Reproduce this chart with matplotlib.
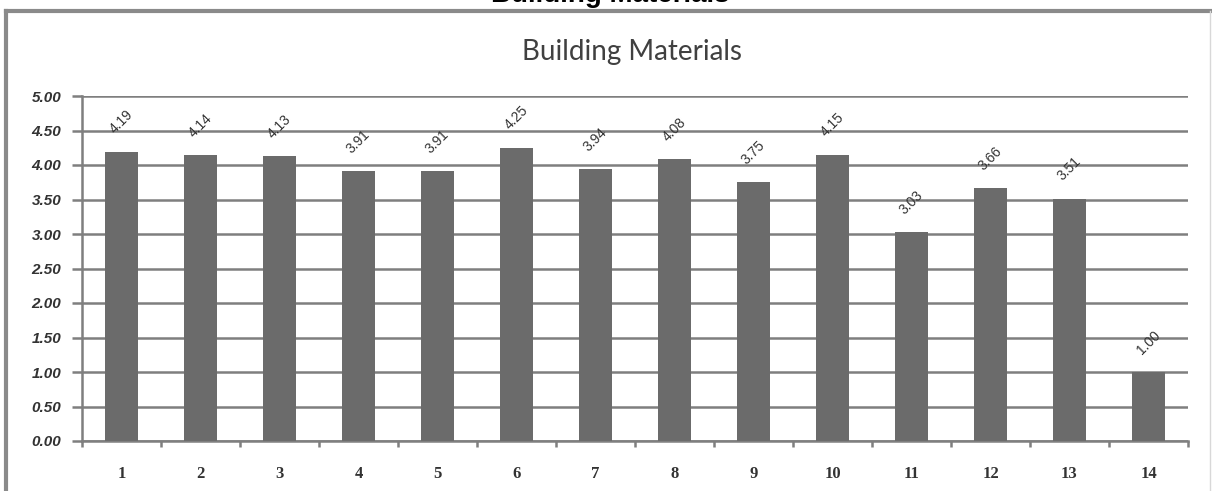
import numpy as np
import matplotlib.pyplot as plt
from matplotlib.lines import Line2D

# values
categories = [str(i) for i in range(1, 15)]
scores = [4.19, 4.14, 4.13, 3.91, 3.91, 4.25, 3.94, 4.08, 3.75, 4.15, 3.03, 3.66, 3.51, 1.00]
yticks = [0.0, 0.5, 1.0, 1.5, 2.0, 2.5, 3.0, 3.5, 4.0, 4.5, 5.0]

W, H = 1212, 491
fig = plt.figure(figsize=(W / 100, H / 100), dpi=100)

# outer frame (screenshot border), drawn in pixel-ish figure coords
def fx(px):
    return px / W

def fy(py):
    return 1 - py / H

fig.add_artist(Line2D([fx(6), fx(6)], [fy(11), -0.05], color="#8a8a8a", lw=3))
fig.add_artist(Line2D([fx(6), fx(1212)], [fy(11), fy(11)], color="#8a8a8a", lw=3))
fig.add_artist(Line2D([fx(1210), fx(1210)], [fy(11), -0.05], color="#d8d8d8", lw=1))

# outer title, clipped at the top like in the screenshot
fig.text(fx(610), fy(2), "Building Materials", ha="center", va="baseline",
         fontsize=20, fontweight="bold", family="Liberation Sans", color="black")

ax = fig.add_axes([fx(82), fy(441), fx(1188) - fx(82), fy(96) - fy(441)])

x = np.arange(len(categories))
ax.bar(x, scores, width=0.42, color="#6b6b6b", zorder=3)

for xi, v in zip(x, scores):
    ax.annotate("%.2f" % v, (xi, v), xytext=(0, 11), textcoords="offset points",
                ha="center", va="bottom", rotation=45, fontsize=10,
                color="#333333", family="Liberation Sans")

ax.set_xlim(-0.5, len(categories) - 0.5)
ax.set_ylim(0, 5)
ax.set_yticks(yticks)
ax.set_yticklabels(["%.2f" % t for t in yticks], fontsize=11, fontweight="bold",
                   fontstyle="italic", family="Liberation Sans", color="#333333")
ax.yaxis.grid(True, color="#7f7f7f", lw=1.8, zorder=1)
ax.tick_params(axis="y", length=7, width=1.8, color="#7f7f7f", pad=8)

ax.set_xticks(x)
ax.set_xticklabels(categories, fontsize=12, fontweight="bold",
                   family="Liberation Serif", color="#333333")
ax.set_xticks(np.arange(-0.5, len(categories), 1), minor=True)
ax.tick_params(axis="x", which="major", length=0, pad=18)
ax.tick_params(axis="x", which="minor", length=4, width=1.8, color="#7f7f7f")

for side in ["top", "right"]:
    ax.spines[side].set_visible(False)
for side in ["left", "bottom"]:
    ax.spines[side].set_color("#7f7f7f")
    ax.spines[side].set_linewidth(1.8)

fig.text(fx(632), fy(52), "Building Materials", ha="center", va="center",
         fontsize=20, family="Lato", color="#404040")

fig.savefig("out.png", dpi=100)
